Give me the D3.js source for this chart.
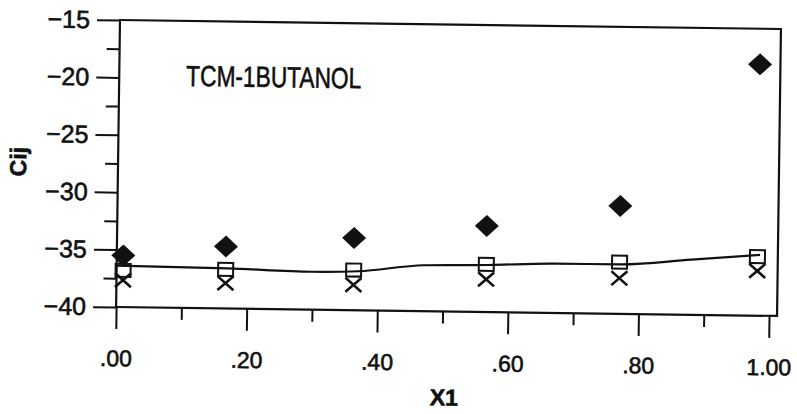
<!DOCTYPE html>
<html>
<head>
<meta charset="utf-8">
<script src="https://cdn.jsdelivr.net/npm/d3@7"></script>
<style>
  body { margin: 0; background: #fff; }
  svg text { font-family: "Liberation Sans", Arial, Helvetica, sans-serif; fill: #111; stroke: #111; stroke-width: 0.6px; }
</style>
</head>
<body>
<div id="chart"></div>
<script>
// values
const x1 = [0.01, 0.167, 0.363, 0.566, 0.77, 0.981];
const cijDiamond = [-35.5, -34.6, -33.7, -32.5, -30.6, -18.1];
const cijSquare = [-36.8, -36.6, -36.5, -35.85, -35.5, -34.85];
const cijCross = [-37.65, -37.8, -37.8, -37.15, -36.9, -36.1];
const fitX = [0, 0.17, 0.30, 0.37, 0.47, 0.57, 0.67, 0.77, 0.88, 0.985];
const fitY = [-36.4, -36.5, -36.7, -36.6, -36.0, -35.9, -35.7, -35.7, -35.2, -34.7];
const xTicks = [0, 0.2, 0.4, 0.6, 0.8, 1.0];
const xMinor = [0.1, 0.3, 0.5, 0.7, 0.9];
const yTicks = [-40, -35, -30, -25, -20, -15];
const yMinor = [-37.5, -32.5, -27.5, -22.5, -17.5];
const title = "TCM-1BUTANOL";

const width = 661, height = 287;

const svg = d3.select("#chart")
  .append("svg")
  .attr("width", 797)
  .attr("height", 414);

// the scan is tilted a little, so the whole plot is turned with it
const g = svg.append("g")
  .attr("transform", "translate(120,20) rotate(0.78)");

const x = d3.scaleLinear().domain([0, 1]).range([0, 653]);
const y = d3.scaleLinear().domain([-40, -15]).range([height, 0]);

const fmtX = d => d === 1 ? "1.00" : d3.format(".2f")(d).replace(/^0/, "");

// Y axis
const yAxis = g.append("g")
  .call(d3.axisLeft(y).tickValues(yTicks).tickSize(23).tickPadding(7).tickFormat(d3.format("d")));
yAxis.append("g")
  .call(d3.axisLeft(y).tickValues(yMinor).tickSize(13).tickFormat(""));
yAxis.selectAll(".domain").remove();
yAxis.attr("font-size", 25).attr("color", "#111");

// X axis
const xAxis = g.append("g")
  .attr("transform", `translate(0,${height})`)
  .call(d3.axisBottom(x).tickValues(xTicks).tickSize(22).tickPadding(21).tickFormat(fmtX));
xAxis.append("g")
  .call(d3.axisBottom(x).tickValues(xMinor).tickSize(12).tickFormat(""));
xAxis.selectAll(".domain").remove();
xAxis.attr("font-size", 23).attr("color", "#111");

g.selectAll(".tick line").attr("stroke-width", 2);

// frame
g.append("rect")
  .attr("width", width)
  .attr("height", height)
  .attr("fill", "none")
  .attr("stroke", "#111")
  .attr("stroke-width", 2.2);

// Axis labels
g.append("text")
  .attr("transform", "translate(-100,143) rotate(-90)")
  .attr("text-anchor", "middle")
  .attr("dy", "0.35em")
  .attr("font-size", 23)
  .attr("font-weight", "bold")
  .text("Cij");

g.append("text")
  .attr("x", 329)
  .attr("y", 381)
  .attr("text-anchor", "middle")
  .attr("font-size", 23)
  .attr("font-weight", "bold")
  .text("X1");

// Chart Title
g.append("text")
  .attr("x", 67)
  .attr("y", 65)
  .attr("font-size", 29)
  .attr("textLength", 175)
  .attr("lengthAdjust", "spacingAndGlyphs")
  .text(title);

// fitted curve
const line = d3.line()
  .x(d => x(d[0]))
  .y(d => y(d[1]))
  .curve(d3.curveMonotoneX);
g.append("path")
  .datum(fitX.map((v, i) => [v, fitY[i]]))
  .attr("fill", "none")
  .attr("stroke", "#111")
  .attr("stroke-width", 2.2)
  .attr("d", line);

// open squares
g.selectAll(".sq")
  .data(x1.map((v, i) => [v, cijSquare[i]]))
  .join("rect")
  .attr("class", "sq")
  .attr("x", d => x(d[0]) - 7.5)
  .attr("y", d => y(d[1]) - 6.5)
  .attr("width", 15)
  .attr("height", 13)
  .attr("fill", "none")
  .attr("stroke", "#111")
  .attr("stroke-width", 2);

// crosses
g.selectAll(".cross")
  .data(x1.map((v, i) => [v, cijCross[i]]))
  .join("path")
  .attr("class", "cross")
  .attr("transform", d => `translate(${x(d[0])},${y(d[1])})`)
  .attr("d", "M-8,-7L8,7M-8,7L8,-7")
  .attr("stroke", "#111")
  .attr("stroke-width", 2.6)
  .attr("fill", "none");

// filled diamonds
g.selectAll(".dia")
  .data(x1.map((v, i) => [v, cijDiamond[i]]))
  .join("path")
  .attr("class", "dia")
  .attr("transform", d => `translate(${x(d[0])},${y(d[1])})`)
  .attr("d", "M0,-11L12,0L0,11L-12,0Z")
  .attr("fill", "#111");
</script>
</body>
</html>
